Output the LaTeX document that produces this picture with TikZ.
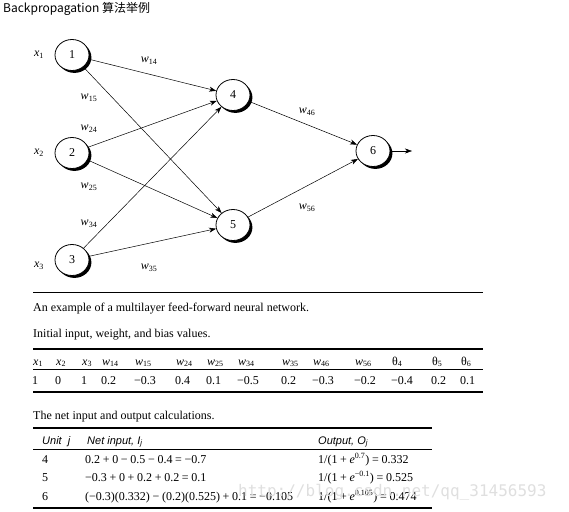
\documentclass[tikz,border=0pt]{standalone}
\usepackage{fontspec}
\setmainfont{Liberation Serif}
\setsansfont{Liberation Sans}
\newfontfamily\cjk{Noto Sans CJK SC}
\newfontfamily\wmfont{DejaVu Sans Mono}
\usepackage{xcolor}
\usetikzlibrary{arrows.meta, positioning, shapes.geometric, shadows}

% italic letter with upright subscript
\newcommand{\lbl}[2]{{\itshape #1}\textsubscript{#2}}
\newcommand{\opp}{\:+\:}
\newcommand{\opm}{\:−\:}
\newcommand{\ope}{\:=\:}
\newcommand{\ee}[1]{{\itshape e}\textsuperscript{#1}}

\begin{document}
\begin{tikzpicture}[x=1pt, y=-1pt,
    neuron/.style={ellipse, draw, line width=0.8pt, fill=white, minimum width=34pt, minimum height=31pt,
      inner sep=0pt, font=\fontsize{12}{14}\selectfont,
      drop shadow={shadow xshift=2.4pt, shadow yshift=-2.4pt, opacity=1, fill=black}},
    link/.style={line width=0.5pt, -{Stealth[length=7pt, width=5pt, inset=2pt]}},
    wlab/.style={font=\fontsize{12}{14}\selectfont, inner sep=0pt},
    tab/.style={anchor=base west, inner sep=0pt, font=\fontsize{12}{14}\selectfont},
    thead/.style={tab, font=\fontsize{11}{13}\sffamily\itshape},
    thinrule/.style={line width=0.6pt},
    thickrule/.style={line width=1.6pt}]
    \useasboundingbox (0,0) rectangle (569,511);
    % title
    \node[anchor=base west, inner sep=0pt, font=\fontsize{12}{14}\cjk] (title) at (3,13) {Backpropagation 算法举例};
    % neurons
    \node[neuron] (n1) at (72,55) {1};
    \node[neuron] (n2) at (72,153) {2};
    \node[neuron] (n3) at (72,260) {3};
    \node[neuron] (n4) at (233,95) {4};
    \node[neuron] (n5) at (233,225) {5};
    \node[neuron] (n6) at (373,151) {6};
    \coordinate (out) at (412,151);
    % inputs
    \node[wlab] (lx1) at (39,55) {\lbl{x}{1}};
    \node[wlab] (lx2) at (39,153) {\lbl{x}{2}};
    \node[wlab] (lx3) at (39,266) {\lbl{x}{3}};
    % connections
    \foreach \a/\b in {n1/n4, n1/n5, n2/n4, n2/n5, n3/n4, n3/n5, n4/n6, n5/n6, n6/out}
        \draw[link] (\a) -- (\b);
    % weights
    \node[wlab] (lw14) at (149,61) {\lbl{w}{14}};
    \node[wlab] (lw15) at (89,98) {\lbl{w}{15}};
    \node[wlab] (lw24) at (89,129) {\lbl{w}{24}};
    \node[wlab] (lw25) at (89,187) {\lbl{w}{25}};
    \node[wlab] (lw34) at (89,224) {\lbl{w}{34}};
    \node[wlab] (lw35) at (149,268) {\lbl{w}{35}};
    \node[wlab] (lw46) at (307,112) {\lbl{w}{46}};
    \node[wlab] (lw56) at (307,208) {\lbl{w}{56}};
    % first table
    \draw[thinrule] (33,292) -- (483,292);
    \node[tab] (cap1) at (33,311) {An example of a multilayer feed-forward neural network.};
    \node[tab] (cap2) at (33,337) {Initial input, weight, and bias values.};
    \draw[thickrule] (33,349) -- (483,349);
    \foreach \xp/\hd/\val in {33/{\lbl{x}{1}}/1, 56/{\lbl{x}{2}}/0, 82/{\lbl{x}{3}}/1,
        102/{\lbl{w}{14}}/0.2, 135/{\lbl{w}{15}}/−0.3, 176/{\lbl{w}{24}}/0.4,
        207/{\lbl{w}{25}}/0.1, 238/{\lbl{w}{34}}/−0.5, 282/{\lbl{w}{35}}/0.2,
        313/{\lbl{w}{46}}/−0.3, 355/{\lbl{w}{56}}/−0.2, 392/{θ\textsubscript{4}}/−0.4,
        432/{θ\textsubscript{5}}/0.2, 461/{θ\textsubscript{6}}/0.1} {
        \node[tab] at (\xp,365) {\hd};
        \node[tab] at (\xp-1,384) {\val};
    }
    \draw[thinrule] (33,369) -- (483,369);
    \draw[thickrule] (33,392) -- (483,392);
    % second table
    \node[tab] (cap3) at (33,419) {The net input and output calculations.};
    \draw[thickrule] (33,428) -- (432,428);
    \node[thead] (hunit) at (42,444) {Unit \ j};
    \node[thead] (hnet) at (87,444) {Net input, \lbl{I}{j}};
    \node[thead] (hout) at (318,444) {Output, \lbl{O}{j}};
    \draw[thinrule] (33,449) -- (432,449);
    \node[tab] (u4) at (42,463) {4};
    \node[tab] (i4) at (85,463) {0.2\opp 0\opm 0.5\opm 0.4\ope −0.7};
    \node[tab] (o4) at (318,463) {1/(1\opp\ee{0.7})\ope 0.332};
    \node[tab] (u5) at (42,481) {5};
    \node[tab] (i5) at (85,481) {−0.3\opp 0\opp 0.2\opp 0.2\ope 0.1};
    \node[tab] (o5) at (318,481) {1/(1\opp\ee{−0.1})\ope 0.525};
    \node[tab] (u6) at (42,500) {6};
    \node[tab] (i6) at (85,500) {(−0.3)(0.332)\opm (0.2)(0.525)\opp 0.1\ope −0.105};
    \node[tab] (o6) at (318,500) {1/(1\opp\ee{0.105})\ope 0.474};
    \draw[thickrule] (33,508) -- (432,508);
    % watermark
    \node[anchor=base west, inner sep=0pt, text=gray!25, font=\fontsize{16}{18}\wmfont] (wm) at (238,496) {http://blog.csdn.net/qq\_31456593};
\end{tikzpicture}
\end{document}
